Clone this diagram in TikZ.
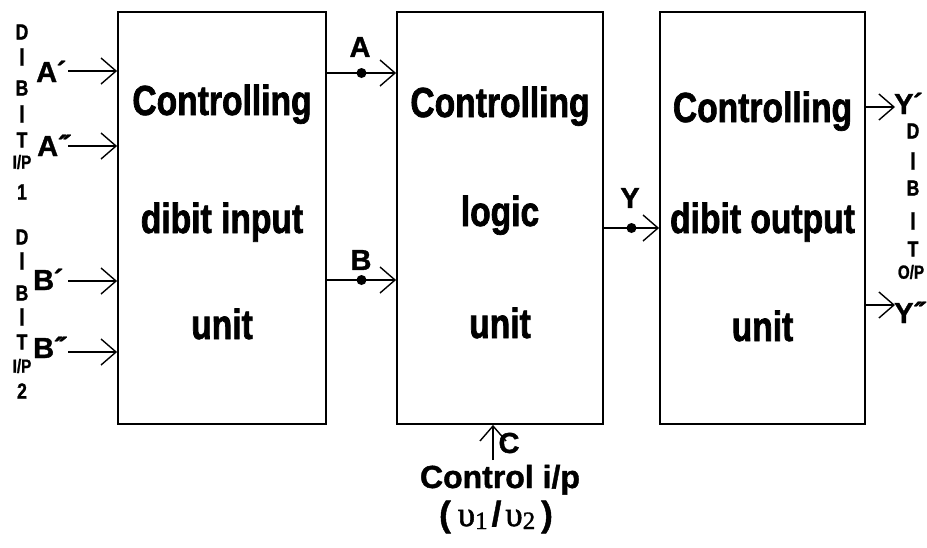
\documentclass[tikz,border=0pt]{standalone}
\usepackage{fontspec}
\setmainfont{Liberation Sans}
\newfontfamily\narrowheavy[FakeStretch=0.8,FakeBold=1.6]{Liberation Sans Bold}
\newfontfamily\heavy[FakeBold=1.2]{Liberation Sans Bold}
\newfontfamily\smallheavy[FakeStretch=0.8,FakeBold=1.2]{Liberation Sans Bold}
\newfontfamily\greekserif[FakeBold=1.5]{Liberation Serif}
\usetikzlibrary{arrows.meta,calc}

\tikzset{
  blockbox/.style={draw, line width=1.8pt, minimum height=412pt, inner sep=0pt},
  arr/.style={line width=1.6pt, -{Straight Barb[length=15pt,width=26pt,line width=1.4pt]}},
  boxtext/.style={font=\narrowheavy\fontsize{42}{42}\selectfont, anchor=base, inner sep=0pt},
  sig/.style={font=\heavy\fontsize{29}{29}\selectfont, inner sep=0pt},
  small/.style={font=\smallheavy\fontsize{22}{22}\selectfont, inner sep=0pt},
  smaller/.style={font=\smallheavy\fontsize{19}{19}\selectfont, inner sep=0pt},
  junction/.style={circle, fill, minimum size=10pt, inner sep=0pt},
}
\newcommand{\onemark}{\kern-0.5pt´}
\newcommand{\twomark}{\kern-0.5pt´\kern-5pt´}
\newcommand{\tallI}{\scalebox{1}[1.15]{I}}
\newcommand{\vsub}[1]{{\greekserif υ\raisebox{-3pt}{\fontsize{25}{25}\selectfont #1}}}

\begin{document}
\begin{tikzpicture}[x=1pt,y=-1pt]
  \useasboundingbox (0,0) rectangle (927,547);

  % the three units
  \node[blockbox, minimum width=208pt] (inunit)  at (222,218) {};
  \node[blockbox, minimum width=206pt] (logunit) at (500,218) {};
  \node[blockbox, minimum width=205pt] (outunit) at (762.5,218) {};

  \node[boxtext] (t11) at (222,115) {Controlling};
  \node[boxtext] (t12) at (222,233) {dibit input};
  \node[boxtext] (t13) at (222,339) {unit};

  \node[boxtext] (t21) at (500,117) {Controlling};
  \node[boxtext] (t22) at (500,226) {logic};
  \node[boxtext] (t23) at (500,338) {unit};

  \node[boxtext] (t31) at (762.5,122) {Controlling};
  \node[boxtext] (t32) at (762.5,233) {dibit output};
  \node[boxtext] (t33) at (762.5,341) {unit};

  % input dibits
  \coordinate (inA1) at (68,71);
  \coordinate (inA2) at (68,146);
  \coordinate (inB1) at (68,281);
  \coordinate (inB2) at (68,352);
  \draw[arr] (inA1) -- (inunit.west |- inA1);
  \draw[arr] (inA2) -- (inunit.west |- inA2);
  \draw[arr] (inB1) -- (inunit.west |- inB1);
  \draw[arr] (inB2) -- (inunit.west |- inB2);

  \node[sig, anchor=base west] (lA1) at (36,82) {A\onemark};
  \node[sig, anchor=base west] (lA2) at (37,156) {A\twomark};
  \node[sig, anchor=base west] (lB1) at (33,290) {B\onemark};
  \node[sig, anchor=base west] (lB2) at (33,358) {B\twomark};

  \node[small] (d1) at (22,32) {D};
  \node[small] (d2) at (22,57) {\tallI};
  \node[small] (d3) at (22,88) {B};
  \node[small] (d4) at (22,114) {\tallI};
  \node[small] (d5) at (22,140) {T};
  \node[smaller] (d6) at (22,162) {I/P};
  \node[small] (d7) at (22,192) {1};

  \node[small] (e1) at (22,237) {D};
  \node[small] (e2) at (22,261) {\tallI};
  \node[small] (e3) at (22,293) {B};
  \node[small] (e4) at (22,317) {\tallI};
  \node[small] (e5) at (22,342) {T};
  \node[smaller] (e6) at (22,366) {I/P};
  \node[small] (e7) at (22,391) {2};

  % internal signals
  \coordinate (rowA) at (0,73);
  \coordinate (rowB) at (0,280);
  \coordinate (rowY) at (0,228);
  \draw[arr] (inunit.east |- rowA) -- (logunit.west |- rowA);
  \draw[arr] (inunit.east |- rowB) -- (logunit.west |- rowB);
  \draw[arr] (logunit.east |- rowY) -- (outunit.west |- rowY);
  \node[junction] (jA) at ($(inunit.east |- rowA)!0.5!(logunit.west |- rowA)$) {};
  \node[junction] (jB) at ($(inunit.east |- rowB)!0.5!(logunit.west |- rowB)$) {};
  \node[junction] (jY) at ($(logunit.east |- rowY)!0.5!(outunit.west |- rowY)$) {};
  \node[sig] (lA) at (360,47) {A};
  \node[sig] (lB) at (361,260) {B};
  \node[sig] (lY) at (630,198) {Y};

  % control input
  \coordinate (cin) at (493,460);
  \draw[arr] (cin) -- (logunit.south -| cin);
  \node[sig] (lC) at (509,443) {C};
  \node[font=\heavy\fontsize{32}{32}\selectfont, anchor=base, inner sep=0pt] (ctl) at (500,488) {Control i/p};
  \node[font=\heavy\fontsize{35}{35}\selectfont, inner sep=0pt] (volt) at (496,517)
    {(\hspace{7pt}\vsub{1}\hspace{4pt}/\hspace{4pt}\vsub{2}\hspace{6pt})};

  % output dibits
  \coordinate (outY1) at (895,107);
  \coordinate (outY2) at (895,305);
  \draw[arr] (outunit.east |- outY1) -- (outY1);
  \draw[arr] (outunit.east |- outY2) -- (outY2);
  \node[sig, anchor=base west] (lY1) at (894,114) {Y\onemark};
  \node[sig, anchor=base west] (lY2) at (894,323) {Y\twomark};

  \node[small] (f1) at (913,131) {D};
  \node[small] (f2) at (913,161) {\tallI};
  \node[small] (f3) at (913,188) {B};
  \node[small] (f4) at (913,221) {\tallI};
  \node[small] (f5) at (913,249) {T};
  \node[smaller] (f6) at (911,272) {O/P};
\end{tikzpicture}
\end{document}
